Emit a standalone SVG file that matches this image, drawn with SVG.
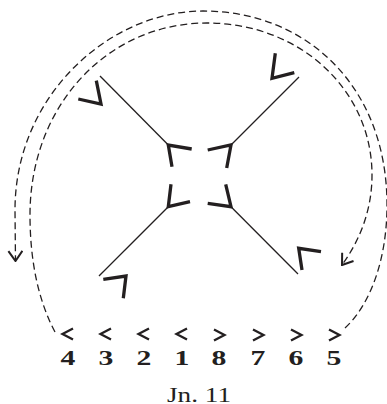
<svg xmlns="http://www.w3.org/2000/svg" width="387" height="404" viewBox="0 0 387 404">
<style>
.thin{fill:none;stroke:#231f20;stroke-width:1.3}
.thick{fill:none;stroke:#231f20;stroke-width:3.3;stroke-linejoin:miter;stroke-linecap:butt}
.dash{fill:none;stroke:#231f20;stroke-width:1.3;stroke-dasharray:7 4}
.chev{fill:none;stroke:#231f20;stroke-width:2.3}
.num{font-weight:bold;font-size:22px;fill:#231f20;text-anchor:middle}
.cap{font-size:20px;fill:#231f20}
</style>
<defs>
<marker id="ah" markerUnits="userSpaceOnUse" viewBox="0 0 12 16" refX="11" refY="8" markerWidth="12" markerHeight="16" orient="auto">
<path d="M1,1 L11,8 L1,15" fill="none" stroke="#231f20" stroke-width="2"/>
</marker>
<path id="lt" d="M5,-5.5 L-5.5,0 L5,5.5" class="chev"/>
<path id="gt" d="M-5,-5.5 L5.5,0 L-5,5.5" class="chev"/>
</defs>
<g id="arm-nw">
<path class="thin" d="M100,76 L168.3,145"/>
<path class="thick" d="M96.3,80.7 L101,104 L78.3,99"/>
<path class="thick" d="M191.7,149 L168.3,145 L172,166.7"/>
</g>
<g id="arm-ne">
<path class="thin" d="M299,77 L231,145"/>
<path class="thick" d="M275.3,53.3 L272,78.3 L294.3,72.7"/>
<path class="thick" d="M207.7,150 L231,145 L226.7,168"/>
</g>
<g id="arm-sw">
<path class="thin" d="M168.3,206.7 L99,276"/>
<path class="thick" d="M103.3,279.3 L126,276 L123.3,298.3"/>
<path class="thick" d="M171,184.3 L168.3,206.7 L190,201.7"/>
</g>
<g id="arm-se">
<path class="thin" d="M231,206.7 L298,274"/>
<path class="thick" d="M321,251.7 L298.7,248.3 L302,270"/>
<path class="thick" d="M225.7,184.3 L231,206.7 L207.7,203.3"/>
</g>
<g id="connectors">
<path class="dash" marker-end="url(#ah)" d="M345,328 C370,305 387,260 387,205 C387,85 305,11 203,11 C110,11 15,95 15,210 L15.5,261"/>
<path class="dash" marker-end="url(#ah)" d="M55,332 C38,300 30,260 30,215 C30,105 108,23 207,23 C300,23 372,90 372,175 C372,210 360,240 342,265"/>
</g>
<g id="labels" font-family="'Liberation Serif', 'Times New Roman', serif">
<use href="#lt" x="68" y="334"/>
<use href="#lt" x="106" y="334"/>
<use href="#lt" x="144" y="334"/>
<use href="#lt" x="182" y="334"/>
<use href="#gt" x="219" y="335"/>
<use href="#gt" x="258" y="335"/>
<use href="#gt" x="296" y="335"/>
<use href="#gt" x="334" y="335"/>
<text class="num" transform="translate(68,365) scale(1.35,1)">4</text>
<text class="num" transform="translate(106,365) scale(1.35,1)">3</text>
<text class="num" transform="translate(144,365) scale(1.35,1)">2</text>
<text class="num" transform="translate(182,365) scale(1.35,1)">1</text>
<text class="num" transform="translate(219,365) scale(1.35,1)">8</text>
<text class="num" transform="translate(258,365) scale(1.35,1)">7</text>
<text class="num" transform="translate(296,365) scale(1.35,1)">6</text>
<text class="num" transform="translate(334,365) scale(1.35,1)">5</text>
<text class="cap" x="167" y="401.5" textLength="64" lengthAdjust="spacingAndGlyphs">Jn. 11</text>
</g>
</svg>
